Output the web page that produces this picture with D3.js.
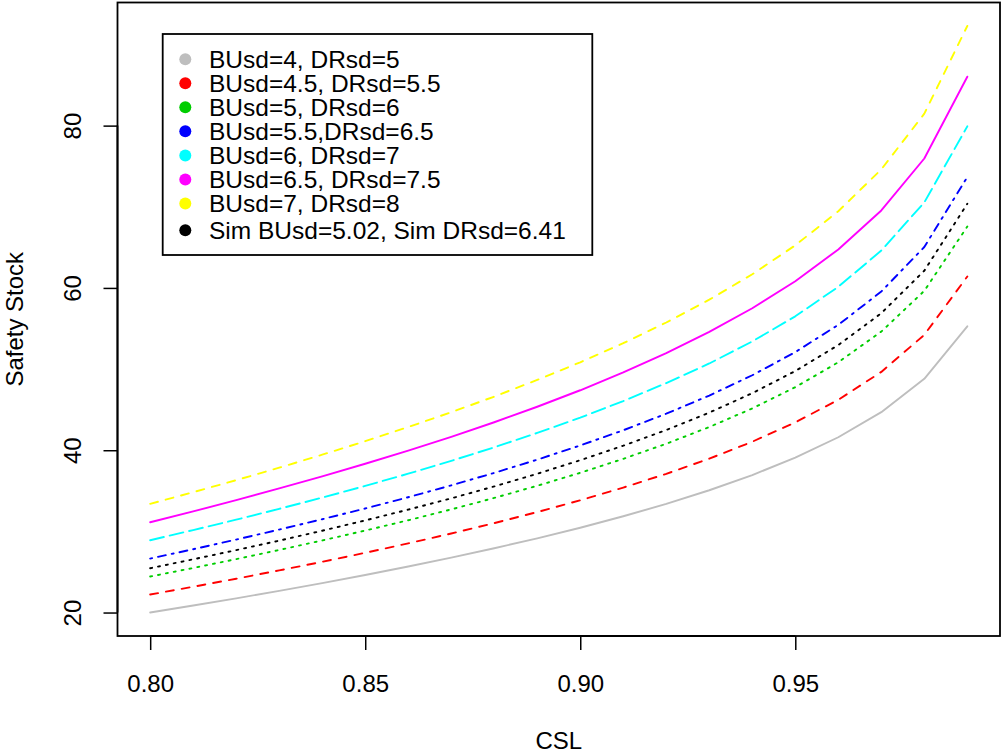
<!DOCTYPE html>
<html>
<head>
<meta charset="utf-8">
<script src="https://cdn.jsdelivr.net/npm/d3@7"></script>
<style>
  html, body { margin: 0; padding: 0; background: #fff; }
  svg { display: block; }
  text { font-family: "Liberation Sans", Arial, Helvetica, sans-serif; fill: #000; }
</style>
</head>
<body>
<svg id="chart" width="1003" height="755"></svg>
<script>
// Cycle service level (x values)
const csl = [0.80, 0.81, 0.82, 0.83, 0.84, 0.85, 0.86, 0.87, 0.88, 0.89,
             0.90, 0.91, 0.92, 0.93, 0.94, 0.95, 0.96, 0.97, 0.98, 0.99];

// Safety stock for each pair of standard deviations
const ssBU4 = [20.00, 20.86, 21.75, 22.67, 23.63, 24.62, 25.67, 26.76, 27.92, 29.14,
               30.45, 31.86, 33.39, 35.07, 36.94, 39.08, 41.60, 44.69, 48.80, 55.27];
const ssBU45 = [22.22, 23.18, 24.17, 25.19, 26.25, 27.36, 28.52, 29.74, 31.02, 32.38,
                33.83, 35.40, 37.09, 38.96, 41.05, 43.43, 46.22, 49.65, 54.22, 61.41];
const ssBU5 = [24.44, 25.49, 26.58, 27.71, 28.88, 30.10, 31.37, 32.71, 34.12, 35.62,
               37.22, 38.94, 40.80, 42.86, 45.15, 47.77, 50.84, 54.62, 59.64, 67.56];
const ssBU55 = [26.65, 27.80, 28.99, 30.22, 31.50, 32.82, 34.21, 35.67, 37.21, 38.84,
                40.59, 42.46, 44.50, 46.74, 49.24, 52.09, 55.45, 59.56, 65.04, 73.67];
const ssBU6 = [28.91, 30.16, 31.44, 32.78, 34.16, 35.60, 37.11, 38.69, 40.36, 42.13,
               44.02, 46.06, 48.27, 50.69, 53.41, 56.50, 60.14, 64.61, 70.54, 79.91];
const ssBU65 = [31.12, 32.46, 33.85, 35.29, 36.78, 38.33, 39.95, 41.65, 43.45, 45.36,
                47.39, 49.58, 51.96, 54.58, 57.50, 60.83, 64.74, 69.55, 75.95, 86.03];
const ssBU7 = [33.39, 34.83, 36.31, 37.85, 39.45, 41.11, 42.86, 44.68, 46.61, 48.66,
               50.84, 53.19, 55.74, 58.55, 61.68, 65.25, 69.45, 74.61, 81.47, 92.28];
const ssSim = [25.46, 26.56, 27.69, 28.86, 30.08, 31.35, 32.68, 34.07, 35.54, 37.10,
               38.77, 40.56, 42.50, 44.64, 47.03, 49.76, 52.96, 56.89, 62.12, 70.37];

const seriesLabels = ["BUsd=4, DRsd=5", "BUsd=4.5, DRsd=5.5", "BUsd=5, DRsd=6",
                      "BUsd=5.5,DRsd=6.5", "BUsd=6, DRsd=7", "BUsd=6.5, DRsd=7.5",
                      "BUsd=7, DRsd=8", "Sim BUsd=5.02, Sim DRsd=6.41"];
const seriesColors = ["#BEBEBE", "#FF0000", "#00CD00", "#0000FF", "#00FFFF",
                      "#FF00FF", "#FFFF00", "#000000"];
// R-style line types: solid, dashed, dotted, dotdash, longdash
const seriesDash = [null, "8,8", "2,6", "2,6,8,6", "14,6", null, "8,8", "2,6"];
const seriesValues = [ssBU4, ssBU45, ssBU5, ssBU55, ssBU6, ssBU65, ssBU7, ssSim];

const xTicks = [0.80, 0.85, 0.90, 0.95];
const xTickLabels = ["0.80", "0.85", "0.90", "0.95"];
const yTicks = [20, 40, 60, 80];
const yTickLabels = ["20", "40", "60", "80"];

const svg = d3.select("#chart");
const plot = { left: 117.5, right: 1000, top: 2.5, bottom: 636 };

// Axis limits padded by 4% like base R graphics
function padded(ext) {
  const r = ext[1] - ext[0];
  return [ext[0] - 0.04 * r, ext[1] + 0.04 * r];
}
const allY = seriesValues.flat();
const x = d3.scaleLinear().domain(padded(d3.extent(csl))).range([plot.left, plot.right]);
const y = d3.scaleLinear().domain(padded(d3.extent(allY))).range([plot.bottom, plot.top]);

const FS = 24;
const LEGEND_FS = 24.5;

// Series lines
const line = d3.line().x((d, i) => x(csl[i])).y(d => y(d));
seriesValues.forEach((vals, i) => {
  const p = svg.append("path")
    .datum(vals)
    .attr("d", line)
    .attr("fill", "none")
    .attr("stroke", seriesColors[i])
    .attr("stroke-width", 1.9)
    .attr("stroke-linecap", "round")
    .attr("stroke-linejoin", "round");
  if (seriesDash[i]) p.attr("stroke-dasharray", seriesDash[i]);
});

// Plot frame
svg.append("rect")
  .attr("x", plot.left).attr("y", plot.top)
  .attr("width", plot.right - plot.left).attr("height", plot.bottom - plot.top)
  .attr("fill", "none").attr("stroke", "#000").attr("stroke-width", 1.8);

// Bottom axis
const xAxis = d3.axisBottom(x).tickValues(xTicks)
  .tickFormat((d, i) => xTickLabels[i]).tickSize(14).tickPadding(0);
const gx = svg.append("g").attr("transform", `translate(0,${plot.bottom})`).call(xAxis);
gx.select(".domain").attr("d", `M${x(xTicks[0])},0H${x(xTicks[xTicks.length - 1])}`)
  .attr("stroke", "#000").attr("stroke-width", 1.8);
gx.selectAll(".tick line").attr("stroke", "#000").attr("stroke-width", 1.5);
gx.selectAll(".tick text")
  .attr("y", 56).attr("dy", null)
  .style("font-size", FS + "px").style("font-family", "Liberation Sans, Arial, sans-serif")
  .attr("fill", "#000");

// Left axis
const yAxis = d3.axisLeft(y).tickValues(yTicks)
  .tickFormat((d, i) => yTickLabels[i]).tickSize(14).tickPadding(0);
const gy = svg.append("g").attr("transform", `translate(${plot.left},0)`).call(yAxis);
gy.select(".domain").attr("d", `M0,${y(yTicks[0])}V${y(yTicks[yTicks.length - 1])}`)
  .attr("stroke", "#000").attr("stroke-width", 1.8);
gy.selectAll(".tick line").attr("stroke", "#000").attr("stroke-width", 1.5);
gy.selectAll(".tick text")
  .attr("x", null).attr("dy", null)
  .attr("transform", "translate(-37,0) rotate(-90)")
  .attr("text-anchor", "middle")
  .style("font-size", FS + "px").style("font-family", "Liberation Sans, Arial, sans-serif")
  .attr("fill", "#000");

// Axis titles
svg.append("text")
  .attr("x", (plot.left + plot.right) / 2).attr("y", 749)
  .attr("text-anchor", "middle").style("font-size", FS + "px")
  .text("CSL");
svg.append("text")
  .attr("transform", `translate(23,${(plot.top + plot.bottom) / 2}) rotate(-90)`)
  .attr("text-anchor", "middle").style("font-size", FS + "px")
  .text("Safety Stock");

// Legend
const legend = svg.append("g");
legend.append("rect")
  .attr("x", 162.7).attr("y", 34)
  .attr("width", 592.3 - 162.7).attr("height", 255 - 34)
  .attr("fill", "#fff").attr("stroke", "#000").attr("stroke-width", 1.8);
const rowY = [59.3, 83.3, 107.3, 131.3, 155.5, 179.5, 203.6, 230.3];
seriesLabels.forEach((lab, i) => {
  legend.append("circle")
    .attr("cx", 185.3).attr("cy", rowY[i]).attr("r", 6)
    .attr("fill", seriesColors[i]);
  legend.append("text")
    .attr("x", 209).attr("y", rowY[i] + 8.7)
    .style("font-size", LEGEND_FS + "px")
    .text(lab);
});
</script>
</body>
</html>
